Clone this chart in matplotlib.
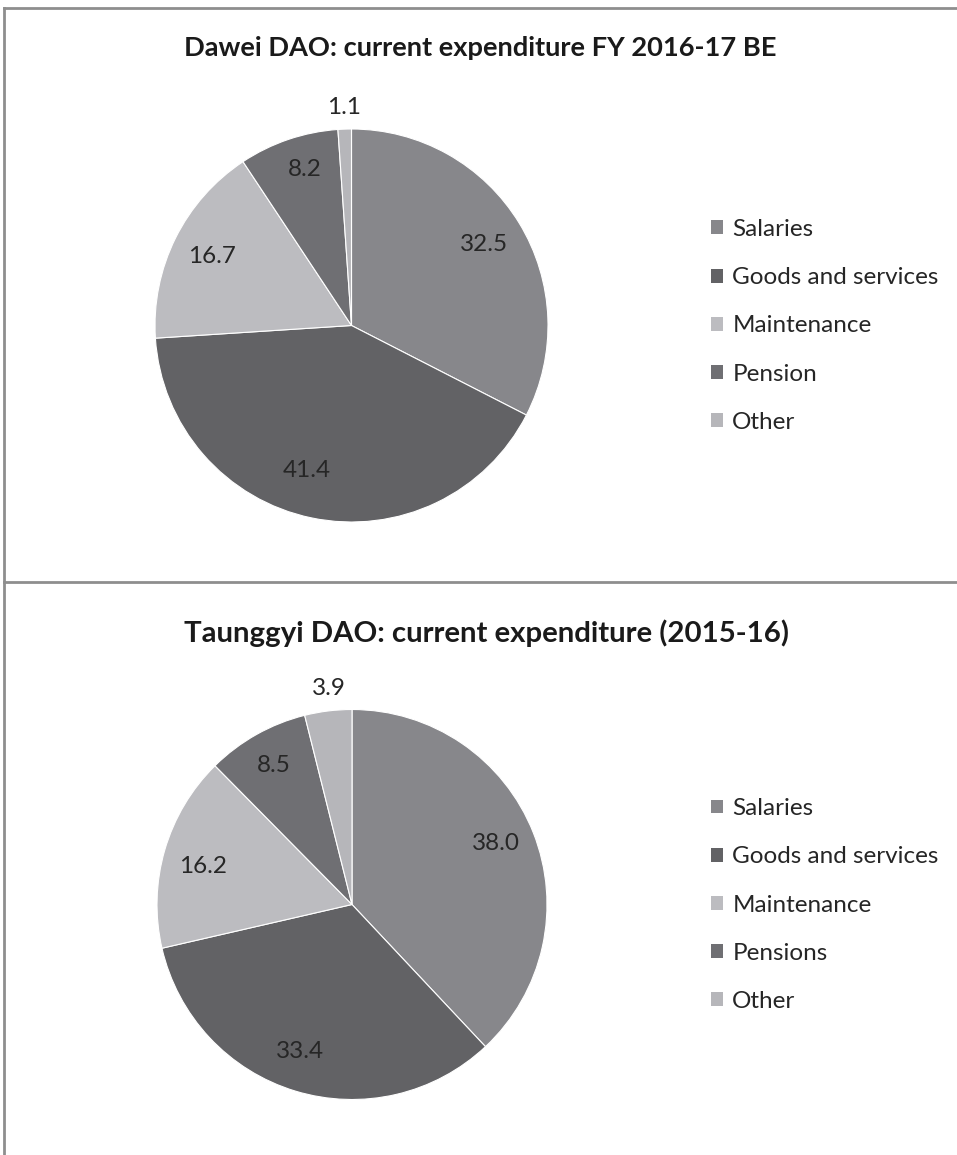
import matplotlib
matplotlib.use("Agg")
import matplotlib.pyplot as plt
import numpy as np
from matplotlib.lines import Line2D
from matplotlib.patches import Patch

W, H = 957, 1155
fig = plt.figure(figsize=(W / 100, H / 100), dpi=100)
fig.patch.set_facecolor("white")

FONT = "Lato"
TEXT_C = "#262626"

# ---- data ----
title_top = "Dawei DAO: current expenditure FY 2016-17 BE"
cats_top = ["Salaries", "Goods and services", "Maintenance", "Pension", "Other"]
vals_top = [32.5, 41.4, 16.7, 8.2, 1.1]

title_bot = "Taunggyi DAO: current expenditure (2015-16)"
cats_bot = ["Salaries", "Goods and services", "Maintenance", "Pensions", "Other"]
vals_bot = [38.0, 33.4, 16.2, 8.5, 3.9]

colors = ["#87878b", "#626265", "#bcbcc0", "#6f6f73", "#b6b6ba"]


def px_axes(cx, cy, r):
    return [(cx - r) / W, (H - cy - r) / H, 2 * r / W, 2 * r / H]


def draw_pie(cx, cy, r, vals, cats, label_r, label_dang, title, title_x, title_y,
             title_size, leg_cy):
    ax = fig.add_axes(px_axes(cx, cy, r))
    wedges, _ = ax.pie(vals, colors=colors, startangle=90, counterclock=False,
                       radius=1.0, wedgeprops=dict(edgecolor="white", linewidth=0.8))
    ax.set_xlim(-1, 1)
    ax.set_ylim(-1, 1)
    ax.set_aspect("equal")
    ax.axis("off")
    for w, v, lr, da in zip(wedges, vals, label_r, label_dang):
        ang = np.deg2rad((w.theta1 + w.theta2) / 2 + da)
        ax.text(lr * np.cos(ang), lr * np.sin(ang), f"{v:.1f}",
                ha="center", va="center", fontsize=17.5, family=FONT, color=TEXT_C,
                clip_on=False)
    fig.text(title_x / W, 1 - title_y / H, title, ha="center", va="center",
             fontsize=title_size, fontweight="bold", family=FONT, color="#1a1a1a")
    handles = [Patch(facecolor=c, edgecolor="none") for c in colors]
    leg = fig.legend(handles, cats, loc="center left",
                     bbox_to_anchor=(689 / W, 1 - leg_cy / H),
                     frameon=False, handlelength=0.5, handleheight=0.5,
                     handletextpad=0.38, labelspacing=1.12,
                     prop=dict(family=FONT, size=17.5))
    for t in leg.get_texts():
        t.set_color(TEXT_C)


draw_pie(351.5, 325.5, 196.5, vals_top, cats_top,
         [0.79, 0.77, 0.795, 0.83, 1.11],
         [0, -5.5, 0, -2, 0],
         title_top, 480, 48, 19.6, 326)
draw_pie(352, 904.5, 195, vals_bot, cats_bot,
         [0.80, 0.80, 0.787, 0.815, 1.116],
         [1.5, -2.6, 2, 0, -1],
         title_bot, 486, 633, 21.2, 905)

# ---- frame lines ----
lc = "#8e8e8e"
fig.add_artist(Line2D([3.5 / W, 3.5 / W], [0, 1 - 8 / H], color=lc, lw=2.0,
                      transform=fig.transFigure))
fig.add_artist(Line2D([3.5 / W, 1], [1 - 8 / H, 1 - 8 / H], color=lc, lw=2.0,
                      transform=fig.transFigure))
fig.add_artist(Line2D([3.5 / W, 1], [1 - 582 / H, 1 - 582 / H], color=lc, lw=2.0,
                      transform=fig.transFigure))

fig.savefig("out.png", dpi=100, facecolor="white")
